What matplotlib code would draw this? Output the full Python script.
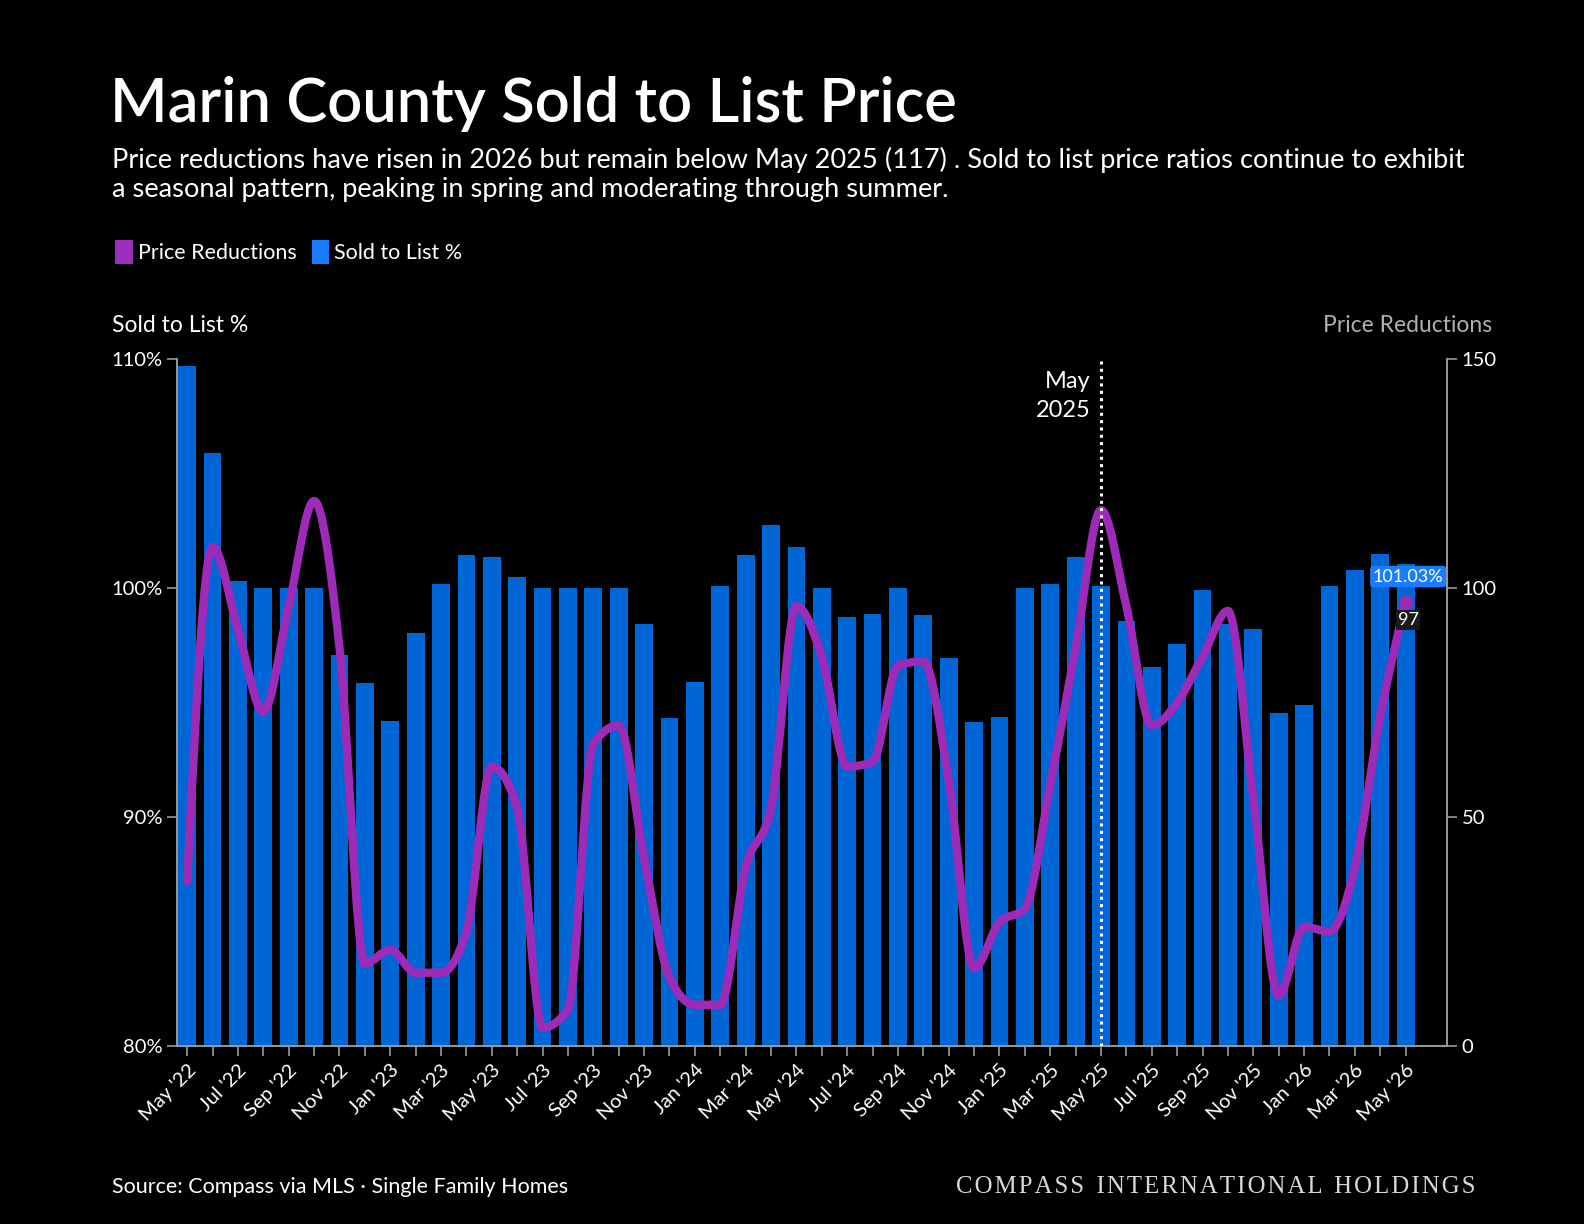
import numpy as np
import matplotlib
matplotlib.use("Agg")
from matplotlib import pyplot as plt
from matplotlib.path import Path
from matplotlib.patches import PathPatch, Patch

months = ["May '22", "Jun '22", "Jul '22", "Aug '22", "Sep '22", "Oct '22", "Nov '22", "Dec '22",
          "Jan '23", "Feb '23", "Mar '23", "Apr '23", "May '23", "Jun '23", "Jul '23", "Aug '23",
          "Sep '23", "Oct '23", "Nov '23", "Dec '23", "Jan '24", "Feb '24", "Mar '24", "Apr '24",
          "May '24", "Jun '24", "Jul '24", "Aug '24", "Sep '24", "Oct '24", "Nov '24", "Dec '24",
          "Jan '25", "Feb '25", "Mar '25", "Apr '25", "May '25", "Jun '25", "Jul '25", "Aug '25",
          "Sep '25", "Oct '25", "Nov '25", "Dec '25", "Jan '26", "Feb '26", "Mar '26", "Apr '26",
          "May '26"]

sold_to_list = [109.7, 105.9, 100.3, 100.0, 100.0, 100.0, 97.07, 95.84,
                94.2, 98.04, 100.16, 101.44, 101.35, 100.47, 100.0, 100.0,
                100.0, 100.0, 98.44, 94.34, 95.88, 100.1, 101.44, 102.76,
                101.79, 99.98, 98.75, 98.88, 100.0, 98.8, 96.94, 94.16,
                94.38, 100.0, 100.16, 101.35, 100.1, 98.57, 96.54, 97.56,
                99.9, 98.44, 98.22, 94.56, 94.9, 100.1, 100.8, 101.5,
                101.03]

price_reductions = [36, 109, 91, 73, 96, 119, 87, 18,
                    21, 16, 16, 25, 61, 52, 4, 8,
                    66, 70, 41, 15, 9, 9, 39, 52,
                    96, 85, 61, 62, 83, 84, 58, 17,
                    27, 30, 57, 87, 117, 96, 70, 75,
                    85, 95, 54, 11, 26, 25, 39, 72,
                    97]

BG = "#000000"
BAR = "#0066d6"
LINE = "#9d2bb8"
FONT = ["Lato", "DejaVu Sans"]
plt.rcParams["font.family"] = FONT


def monotone_path(xs, ys):
    # smooth monotone cubic through the points, as bezier segments
    xs = np.asarray(xs, float)
    ys = np.asarray(ys, float)
    n = len(xs)
    h = np.diff(xs)
    s = np.diff(ys) / h
    t = np.zeros(n)
    for i in range(1, n - 1):
        if s[i - 1] * s[i] <= 0:
            t[i] = 0
        else:
            p = (s[i - 1] * h[i] + s[i] * h[i - 1]) / (h[i - 1] + h[i])
            t[i] = np.sign(s[i]) * min(abs(s[i - 1]), abs(s[i]), 0.5 * abs(p)) * 2
    t[0] = (3 * s[0] - t[1]) / 2
    t[-1] = (3 * s[-1] - t[-2]) / 2
    verts = [(xs[0], ys[0])]
    codes = [Path.MOVETO]
    for i in range(n - 1):
        d = h[i] / 3
        verts += [(xs[i] + d, ys[i] + d * t[i]),
                  (xs[i + 1] - d, ys[i + 1] - d * t[i + 1]),
                  (xs[i + 1], ys[i + 1])]
        codes += [Path.CURVE4] * 3
    return Path(verts, codes)


fig = plt.figure(figsize=(15.84, 12.24), dpi=100, facecolor=BG)
ax = fig.add_axes([177 / 1584, 1 - 1046 / 1224, (1447 - 177) / 1584, (1046 - 359) / 1224])
ax.set_facecolor(BG)
x = np.arange(len(months))

ax.bar(x, sold_to_list, width=0.7, color=BAR, zorder=2)
ax.set_ylim(80, 110)
ax.set_xlim(-0.4, 49.63)
ax.set_yticks([80, 90, 100, 110])
ax.set_yticklabels(["80%", "90%", "100%", "110%"])
ax.set_xticks(x)
ax.set_xticklabels([m if i % 2 == 0 else "" for i, m in enumerate(months)],
                   rotation=45, ha="right", rotation_mode="anchor")
ax.tick_params(axis="both", colors="#9a9a9a", labelcolor="white", labelsize=14.5, length=7, width=1.2)
ax.tick_params(axis="x", pad=4)

ax2 = ax.twinx()
ax2.set_ylim(0, 150)
ax2.set_yticks([0, 50, 100, 150])
ax2.tick_params(axis="y", colors="#9a9a9a", labelcolor="white", labelsize=14.5, length=7, width=1.2)

for a in (ax, ax2):
    a.spines["top"].set_visible(False)
    for side in ("left", "right", "bottom"):
        a.spines[side].set_color("#9a9a9a")
        a.spines[side].set_linewidth(1.2)

path = monotone_path(x, price_reductions)
ax2.add_patch(PathPatch(path, facecolor="none", edgecolor=LINE, lw=6,
                        capstyle="round", joinstyle="round", zorder=3))
ax2.plot(x[-1], price_reductions[-1], "o", color=LINE, ms=9, zorder=4)

# May 2025 marker
ax2.axvline(36, color="white", lw=2.2, ls=(0, (1, 1.4)), zorder=5)
ax2.text(35.6, 147.3, "May\n2025", color="white", fontsize=17, ha="right", va="top", linespacing=1.45)

# end labels
ax.text(48.1, 100.15, "101.03%", color="white", fontsize=13, ha="center", va="bottom", zorder=6,
        bbox=dict(boxstyle="round,pad=0.15", fc="#1a7cff", ec="none"))
ax2.text(48.1, 93, "97", color="white", fontsize=13, ha="center", va="center", zorder=6,
         bbox=dict(boxstyle="square,pad=0.1", fc="#1a1a1a", ec="none"))

# axis titles
fig.text(112 / 1584, 1 - 326 / 1224, "Sold to List %", color="white", fontsize=16.5, va="center")
fig.text(1492 / 1584, 1 - 326 / 1224, "Price Reductions", color="#b0b0b0", fontsize=16.5,
         va="center", ha="right")

# title block
fig.text(110 / 1584, 1 - 104 / 1224, "Marin County Sold to List Price", color="white",
         fontsize=44.3, fontweight="semibold", va="center")
fig.text(112 / 1584, 1 - 160 / 1224,
         "Price reductions have risen in 2026 but remain below May 2025 (117) . Sold to list price ratios continue to exhibit",
         color="white", fontsize=19.6, va="center")
fig.text(112 / 1584, 1 - 190 / 1224,
         "a seasonal pattern, peaking in spring and moderating through summer.",
         color="white", fontsize=19.6, va="center")

handles = [Patch(facecolor="#9b2fbe", edgecolor="none", label="Price Reductions"),
           Patch(facecolor="#1a7cff", edgecolor="none", label="Sold to List %")]
fig.legend(handles=handles, loc="center left", bbox_to_anchor=(96 / 1584, 1 - 252 / 1224),
           ncol=2, frameon=False, fontsize=15.5, labelcolor="white", handlelength=0.8,
           handleheight=1.3, handletextpad=0.25, columnspacing=0.7)

fig.text(112 / 1584, 1 - 1187 / 1224, "Source: Compass via MLS · Single Family Homes",
         color="white", fontsize=15.5, va="center")
compass = "\u200a".join("COMPASS INTERNATIONAL HOLDINGS").replace("\u200a \u200a", "  ")
fig.text(1475 / 1584, 1 - 1187 / 1224, compass, color="#d8d8d8",
         fontsize=17.8, va="center", ha="right", family=["Liberation Serif", "DejaVu Serif"])

fig.savefig("out.png", dpi=100, facecolor=BG)
